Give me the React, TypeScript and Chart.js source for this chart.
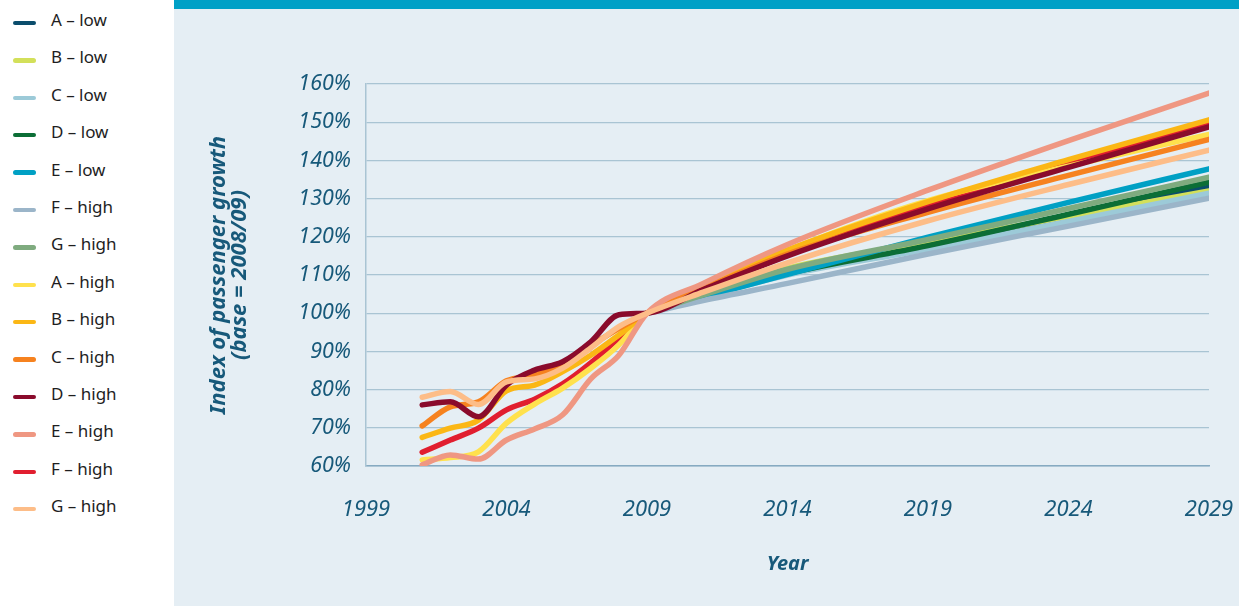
import React, { useEffect, useRef } from "react";
import { Chart, registerables } from "chart.js";

Chart.register(...registerables);

// ---- data ----
const seriesNames = [
  "A – low", "B – low", "C – low", "D – low", "E – low", "F – high", "G – high",
  "A – high", "B – high", "C – high", "D – high", "E – high", "F – high", "G – high",
];
const seriesColors = [
  "#0b4d6c", "#d3e05a", "#9ccad8", "#0c6e36", "#00a0c4", "#9bb5c9", "#7fab7f",
  "#ffe14d", "#fbb715", "#f6821f", "#8a0b2c", "#ef9782", "#e11e2f", "#fdbd88",
];
const historyYears = [2001, 2002, 2003, 2004, 2005, 2006, 2007, 2008];
const projectionYears = [2009, 2011, 2014, 2019, 2024, 2029];

// history (2001–2008), null where a series has no history
const historyAHigh = [61.6, 62.2, 63.7, 71.2, 76.2, 80.4, 85.6, 91.7];
const historyBHigh = [67.5, 69.9, 72.0, 79.7, 81.2, 84.7, 89.0, 94.3];
const historyCHigh = [70.5, 75.5, 76.8, 82.3, 83.8, 86.8, 91.5, 96.0];
const historyDHigh = [76.0, 76.8, 72.9, 81.2, 85.1, 87.3, 92.5, 99.6];
const historyEHigh = [60.3, 62.9, 61.8, 66.8, 69.7, 73.4, 82.8, 89.0];
const historyFHigh = [63.6, 66.8, 69.9, 74.7, 77.5, 81.5, 87.0, 93.5];
const historyGHigh = [78.0, 79.5, 76.1, 82.0, 82.8, 85.6, 90.9, 96.5];

// projections (2009, 2011, 2014, 2019, 2024, 2029)
const projALow = [100, 104.4, 110.5, 117.3, 125.2, 133.0];
const projBLow = [100, 105.0, 111.8, 118.6, 125.3, 132.0];
const projCLow = [100, 104.2, 110.0, 116.8, 124.0, 131.4];
const projDLow = [100, 104.4, 110.4, 117.7, 125.9, 134.3];
const projELow = [100, 104.2, 110.2, 119.9, 129.0, 137.8];
const projFHigh1 = [100, 103.3, 107.8, 115.5, 122.8, 130.1];
const projGHigh1 = [100, 104.8, 111.5, 119.3, 127.4, 135.6];
const projAHigh = [100, 106.9, 116.5, 129.5, 138.5, 146.8];
const projBHigh = [100, 106.9, 116.5, 129.2, 140.2, 150.6];
const projCHigh = [100, 106.5, 115.5, 126.4, 136.1, 145.5];
const projDHigh = [100, 106.2, 115.0, 127.3, 138.2, 148.8];
const projEHigh = [100, 107.8, 118.0, 132.2, 145.2, 157.6];
const projFHigh = [100, 106.6, 115.8, 128.3, 139.2, 149.7];
const projGHigh = [100, 105.5, 113.2, 124.2, 133.7, 142.7];

const seriesHistory: (number[] | null)[] = [
  null, null, null, null, null, null, null,
  historyAHigh, historyBHigh, historyCHigh, historyDHigh, historyEHigh, historyFHigh, historyGHigh,
];
const seriesProjection = [
  projALow, projBLow, projCLow, projDLow, projELow, projFHigh1, projGHigh1,
  projAHigh, projBHigh, projCHigh, projDHigh, projEHigh, projFHigh, projGHigh,
];

const xTicks = [1999, 2004, 2009, 2014, 2019, 2024, 2029];
const yTicks = [60, 70, 80, 90, 100, 110, 120, 130, 140, 150, 160];

const TEXT_BLUE = "#17597a";
const FONT = "'Noto Sans', 'Open Sans', sans-serif";

export default function App() {
  const canvasRef = useRef<HTMLCanvasElement | null>(null);

  useEffect(() => {
    const canvas = canvasRef.current;
    if (!canvas) return;
    const datasets = seriesNames.map((name, i) => {
      const pts: { x: number; y: number }[] = [];
      const h = seriesHistory[i];
      if (h) h.forEach((v, k) => pts.push({ x: historyYears[k], y: v }));
      seriesProjection[i].forEach((v, k) => pts.push({ x: projectionYears[k], y: v }));
      let order = 13 - i;
      if (i === 12) order = 30; // F – high (red) sits beneath the others
      return {
        label: name,
        data: pts,
        borderColor: seriesColors[i],
        backgroundColor: seriesColors[i],
        borderWidth: 5.5,
        pointRadius: 0,
        pointHoverRadius: 0,
        cubicInterpolationMode: "monotone" as const,
        borderCapStyle: "round" as const,
        borderJoinStyle: "round" as const,
        fill: false,
        order,
      };
    });

    const chart = new Chart(canvas, {
      type: "line",
      data: { datasets },
      options: {
        animation: false,
        responsive: false,
        events: [],
        layout: { autoPadding: false, padding: { left: 0, right: 30, top: 75, bottom: 0 } },
        plugins: { legend: { display: false }, tooltip: { enabled: false } },
        scales: {
          x: {
            type: "linear",
            min: 1999,
            max: 2029,
            afterBuildTicks: (scale: any) => {
              scale.ticks = xTicks.map((v) => ({ value: v }));
            },
            afterFit: (scale: any) => {
              scale.height = 140;
              scale.paddingLeft = 0;
              scale.paddingRight = 0;
            },
            grid: { display: false, drawTicks: false },
            border: { display: true, color: "#86aac1", width: 1.5 },
            ticks: {
              padding: 31,
              color: TEXT_BLUE,
              font: { family: FONT, size: 22, style: "italic" },
              callback: (v: any) => String(v),
              maxRotation: 0,
              autoSkip: false,
            },
            title: {
              display: true,
              text: "Year",
              color: TEXT_BLUE,
              font: { family: FONT, size: 20, style: "italic", weight: "bold" },
              padding: { top: 0, bottom: 30 },
            },
          },
          y: {
            type: "linear",
            min: 60,
            max: 160,
            afterBuildTicks: (scale: any) => {
              scale.ticks = yTicks.map((v) => ({ value: v }));
            },
            afterFit: (scale: any) => {
              scale.width = 192;
              scale.paddingTop = 0;
              scale.paddingBottom = 0;
            },
            grid: { color: "#a9c4d3", lineWidth: 1.3, drawTicks: false },
            border: { display: true, color: "#a9c4d3", width: 1.5 },
            ticks: {
              padding: 15,
              color: TEXT_BLUE,
              font: { family: FONT, size: 21.5, style: "italic" },
              callback: (v: any) => `${v}%`,
              autoSkip: false,
            },
            title: {
              display: true,
              text: ["Index of passenger growth", "(base = 2008/09)"],
              color: TEXT_BLUE,
              font: { family: FONT, size: 22, style: "italic", weight: "bold", lineHeight: 0.96 },
              padding: { top: 34.5, bottom: 0 },
            },
          },
        },
      },
    });
    return () => chart.destroy();
  }, []);

  return (
    <div
      style={{
        position: "fixed",
        left: 0,
        top: 0,
        width: 1239,
        height: 606,
        background: "#ffffff",
        fontFamily: FONT,
        overflow: "hidden",
      }}
    >
      {seriesNames.map((name, i) => (
        <div key={i}>
          <div
            style={{
              position: "absolute",
              left: 13,
              top: 22.7 + 37.4 * i - 2,
              width: 23,
              height: 4.5,
              borderRadius: 2.5,
              background: seriesColors[i],
            }}
          />
          <div
            style={{
              position: "absolute",
              left: 51,
              top: 10.9 + 37.4 * i,
              fontSize: 17,
              lineHeight: "17px",
              color: "#1e1e1e",
              whiteSpace: "nowrap",
            }}
          >
            {name}
          </div>
        </div>
      ))}
      <div
        style={{
          position: "absolute",
          left: 174,
          top: 0,
          width: 1065,
          height: 606,
          background: "#e5eef4",
        }}
      >
        <div style={{ position: "absolute", left: 0, top: 0, width: 1065, height: 9, background: "#00a0c6" }} />
        <div style={{ position: "absolute", left: 0, top: 9, width: 1065, height: 597 }}>
          <canvas ref={canvasRef} width={1065} height={597} style={{ display: "block" }} />
        </div>
      </div>
    </div>
  );
}
